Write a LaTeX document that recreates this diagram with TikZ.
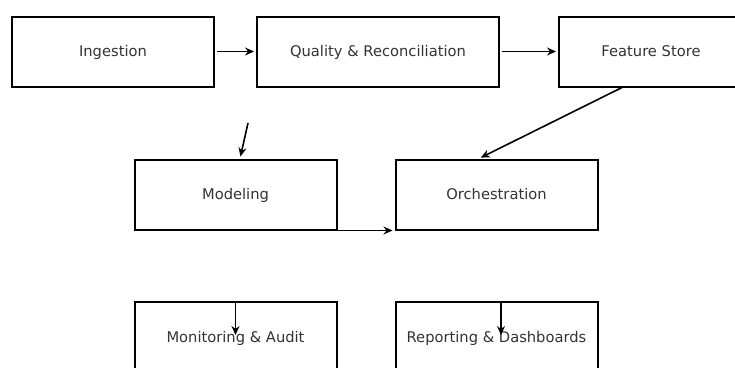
\documentclass[tikz,border=0pt]{standalone}
\usepackage{fontspec}
\setmainfont{DejaVu Sans}
\usetikzlibrary{arrows.meta}
\definecolor{labelgray}{HTML}{333333}

\begin{document}
\begin{tikzpicture}[x=1pt, y=-1pt,
		stage/.style={draw, line width=2pt, minimum height=70pt, text=labelgray, font=\fontsize{14.7}{17}\selectfont, inner sep=0pt, text height=12pt, text depth=2pt},
		flow/.style={line width=1.6pt, -{Stealth[length=9pt, width=8pt, inset=3pt]}, shorten >=2pt, shorten <=2pt}]
		\useasboundingbox (0,0) rectangle (735,367);

		\node (ingest)[stage, minimum width=202pt] at (113,51.5) {Ingestion};
		\node (quality)[stage, minimum width=242pt] at (378,51.5) {Quality \& Reconciliation};
		\node (fstore)[stage, minimum width=184pt] at (651,51.5) {Feature Store};
		\node (model)[stage, minimum width=202pt] at (235.5,194.5) {Modeling};
		\node (orch)[stage, minimum width=202pt] at (496.5,194.5) {Orchestration};
		\node (monitor)[stage, minimum width=202pt] at (235.5,337) {Monitoring \& Audit};
		\node (report)[stage, minimum width=202pt] at (496.5,337) {Reporting \& Dashboards};
		\coordinate (loose) at (248,123);

		\draw [flow](ingest)--(quality);
		\draw [flow](quality)--(fstore);
		\draw [flow, shorten <=0pt]([xshift=-29pt]fstore.south)--([xshift=-17.5pt]orch.north);
		\draw [flow, shorten <=0pt](loose)--([xshift=4.5pt]model.north);
		\draw [flow, line width=1pt, shorten <=0pt](model.south east)--(orch.south west);

		\draw [flow](monitor.north)--(monitor.center);
		\draw [flow]([xshift=4.5pt]report.north)--([xshift=4.5pt]report.center);
	\end{tikzpicture}
\end{document}
